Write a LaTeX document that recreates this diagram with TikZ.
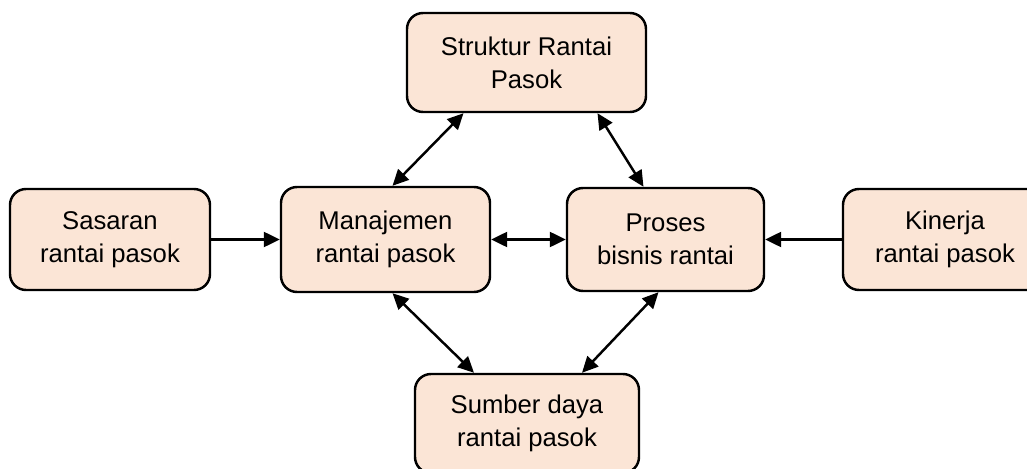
\documentclass[tikz,border=0pt]{standalone}
\usepackage{fontspec}
\setmainfont{Liberation Sans}
\usetikzlibrary{arrows.meta}
\definecolor{boxfill}{HTML}{FBE5D6}
\tikzset{
  rantaibox/.style={draw=black, line width=1.4pt, fill=boxfill, rounded corners=0.32cm,
    align=center, font=\fontsize{14.6}{18.7}\selectfont, inner sep=0pt},
  panah/.style={line width=1.4pt, -{Triangle[length=0.32cm, width=0.3cm]}},
  panahdua/.style={line width=1.4pt, {Triangle[length=0.32cm, width=0.3cm]}-{Triangle[length=0.32cm, width=0.3cm]}}
}
\begin{document}
\begin{tikzpicture}
% Set the picture frame (1px = 0.02cm)
\useasboundingbox (0, 0) rectangle (20.54, -9.38);

% Draw the boxes
\node[rantaibox, minimum width=4.78cm, minimum height=1.98cm] (struktur) at (10.53, -1.25) {Struktur Rantai\\Pasok};
\node[rantaibox, minimum width=4.0cm, minimum height=2.02cm] (sasaran) at (2.2, -4.79) {Sasaran\\rantai pasok};
\node[rantaibox, minimum width=4.18cm, minimum height=2.1cm] (manajemen) at (7.71, -4.79) {Manajemen\\rantai pasok};
\node[rantaibox, minimum width=3.94cm, minimum height=2.06cm] (proses) at (13.31, -4.79) {Proses\\bisnis rantai};
\node[rantaibox, minimum width=4.08cm, minimum height=2.02cm] (kinerja) at (18.9, -4.79) {Kinerja\\rantai pasok};
\node[rantaibox, minimum width=4.48cm, minimum height=1.98cm] (sumber) at (10.54, -8.47) {Sumber daya\\rantai pasok};

% Draw the arrows
\draw[panah] (sasaran) -- (manajemen);
\draw[panah] (kinerja) -- (proses);
\draw[panahdua] (manajemen) -- (proses);
\draw[panahdua] ([xshift=-1.26cm]struktur.south) -- ([xshift=0.14cm]manajemen.north);
\draw[panahdua] ([xshift=1.42cm]struktur.south) -- ([xshift=-0.44cm]proses.north);
\draw[panahdua] ([xshift=0.14cm]manajemen.south) -- ([xshift=-1.06cm]sumber.north);
\draw[panahdua] ([xshift=-0.14cm]proses.south) -- ([xshift=1.1cm]sumber.north);
\end{tikzpicture}
\end{document}
